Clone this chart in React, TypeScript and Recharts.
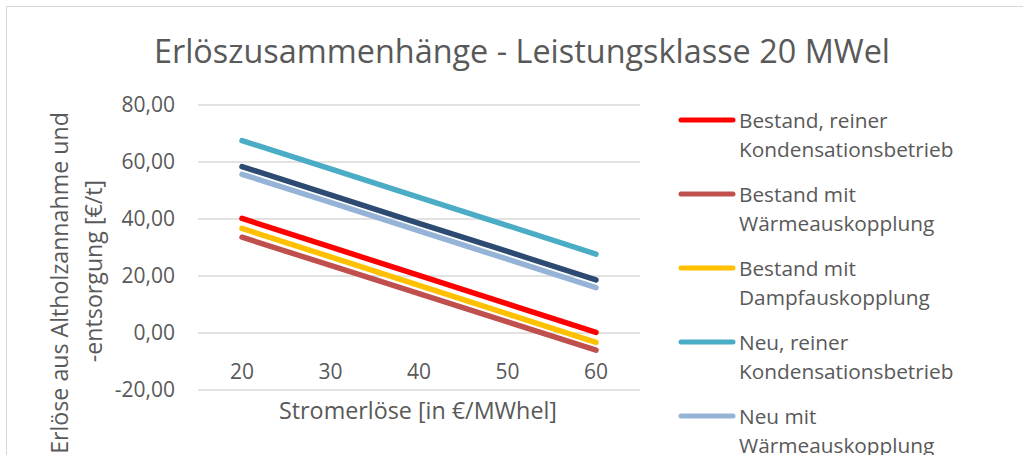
import React from "react";
import { LineChart, Line, XAxis, YAxis, CartesianGrid } from "recharts";

const categories = [20, 30, 40, 50, 60];
const bestandKondensation = [40.2, 30.2, 20.2, 10.2, 0.2];
const bestandWaerme = [33.6, 23.7, 13.8, 3.9, -6.0];
const bestandDampf = [36.7, 26.7, 16.7, 6.7, -3.3];
const neuKondensation = [67.5, 57.6, 47.6, 37.7, 27.7];
const neuWaerme = [55.7, 45.8, 35.8, 25.9, 15.9];
const neuDampf = [58.4, 48.5, 38.5, 28.6, 18.6];
const yTicks = [-20, 0, 20, 40, 60, 80];

const seriesNames = [
  ["Bestand, reiner", "Kondensationsbetrieb"],
  ["Bestand mit", "Wärmeauskopplung"],
  ["Bestand mit", "Dampfauskopplung"],
  ["Neu, reiner", "Kondensationsbetrieb"],
  ["Neu mit", "Wärmeauskopplung"],
  ["Neu mit", "Dampfauskopplung"],
];
const seriesColors = ["#FF0000", "#C0504D", "#FFC000", "#4BACC6", "#95B3D7", "#2C4A72"];
const seriesValues = [bestandKondensation, bestandWaerme, bestandDampf, neuKondensation, neuWaerme, neuDampf];
const keys = ["s0", "s1", "s2", "s3", "s4", "s5"];
// draw order (later on top)
const drawOrder = [4, 5, 3, 1, 2, 0];

const data = categories.map((c, i) => {
  const row: any = { x: String(c) };
  keys.forEach((k, j) => (row[k] = seriesValues[j][i]));
  return row;
});

const FONT = "'Open Sans', sans-serif";
const TXT = "#595959";

const XTick = (props: any) => {
  const { x, y, payload } = props;
  return (
    <text x={x} y={y - 27} textAnchor="middle" dominantBaseline="central" fill={TXT} fontSize={21} fontFamily={FONT}>
      {payload.value}
    </text>
  );
};

export default function App() {
  return (
    <div style={{ position: "absolute", left: 0, top: 0, width: 1023, height: 455, overflow: "hidden", background: "#fff" }}>
      <div style={{ position: "absolute", left: 6, top: 6, width: 1200, height: 800, border: "1px solid #D9D9D9", boxSizing: "border-box" }} />
      <div style={{ position: "absolute", left: 0, top: 0 }}>
        <LineChart width={1023} height={455} data={data} margin={{ top: 105, right: 383, bottom: 35, left: 0 }}>
          <CartesianGrid vertical={false} stroke="#D9D9D9" strokeWidth={1.3} />
          <XAxis
            dataKey="x"
            type="category"
            padding={{ left: 44, right: 44 }}
            axisLine={false}
            tickLine={false}
            height={30}
            tick={<XTick />}
            interval={0}
          />
          <YAxis
            width={198}
            domain={[-20, 80]}
            ticks={yTicks}
            axisLine={false}
            tickLine={false}
            tickSize={0}
            tickMargin={23}
            tick={{ fill: TXT, fontSize: 21, fontFamily: FONT }}
            tickFormatter={(v: number) => v.toFixed(2).replace(".", ",")}
            interval={0}
          />
          {drawOrder.map((j) => (
            <Line
              key={keys[j]}
              dataKey={keys[j]}
              stroke={seriesColors[j]}
              strokeWidth={5.5}
              strokeLinecap="round"
              dot={false}
              activeDot={false}
              isAnimationActive={false}
            />
          ))}
        </LineChart>
      </div>
      <svg width={1023} height={455} style={{ position: "absolute", left: 0, top: 0, pointerEvents: "none" }}>
        <text x={522} y={50} textAnchor="middle" dominantBaseline="central" fill={TXT} fontSize={32.4} fontFamily={FONT}>
          Erlöszusammenhänge - Leistungsklasse 20 MWel
        </text>
        <text x={418} y={410} textAnchor="middle" dominantBaseline="central" fill={TXT} fontSize={23.3} fontFamily={FONT}>
          Stromerlöse [in €/MWhel]
        </text>
        <g transform="translate(59,283) rotate(-90)">
          <text x={0} y={0} textAnchor="middle" dominantBaseline="central" fill={TXT} fontSize={23.2} fontFamily={FONT}>
            Erlöse aus Altholzannahme und
          </text>
        </g>
        <g transform="translate(93,271) rotate(-90)">
          <text x={0} y={0} textAnchor="middle" dominantBaseline="central" fill={TXT} fontSize={23.2} fontFamily={FONT}>
            -entsorgung [€/t]
          </text>
        </g>
        {seriesNames.map((lines, i) => {
          const y0 = 120 + i * 74;
          return (
            <g key={i}>
              <line x1={681} x2={733} y1={y0} y2={y0} stroke={seriesColors[i]} strokeWidth={5} strokeLinecap="round" />
              <text x={739} y={y0} dominantBaseline="central" fill={TXT} fontSize={20.8} fontFamily={FONT}>
                {lines[0]}
              </text>
              <text x={739} y={y0 + 29} dominantBaseline="central" fill={TXT} fontSize={20.8} fontFamily={FONT}>
                {lines[1]}
              </text>
            </g>
          );
        })}
      </svg>
    </div>
  );
}
